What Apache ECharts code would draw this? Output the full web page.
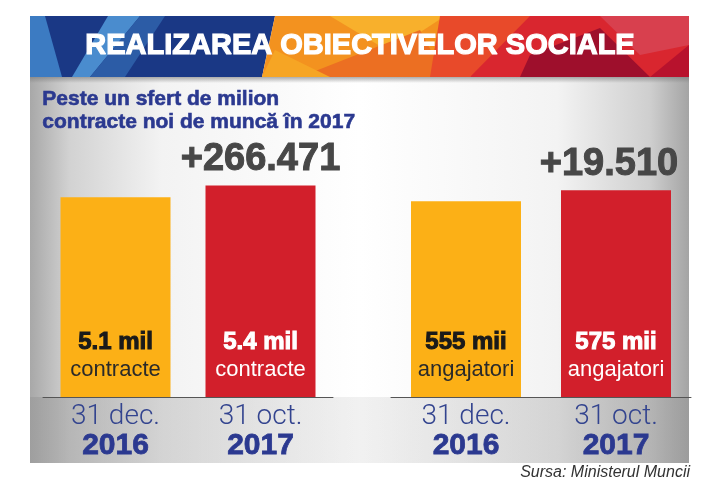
<!DOCTYPE html>
<html>
<head>
<meta charset="utf-8">
<script src="https://cdn.jsdelivr.net/npm/echarts@6/dist/echarts.min.js"></script>
<style>html,body{margin:0;padding:0;background:#fff;}#c{width:720px;height:480px;}</style>
</head>
<body>
<div id="c"></div>
<script>
// ---- data ----
const dateDay = ['31 dec.', '31 oct.'];
const dateYear = ['2016', '2017'];
const contractValues = [5.1, 5.4];           // milioane contracte
const contractLabels = ['5.1 mil', '5.4 mil'];
const employerValues = [555, 575];           // mii angajatori
const employerLabels = ['555 mii', '575 mii'];
const increases = ['+266.471', '+19.510'];
const unitContracts = 'contracte';
const unitEmployers = 'angajatori';
const titleText = 'REALIZAREA OBIECTIVELOR SOCIALE';
const subtitleLines = ['Peste un sfert de milion', 'contracte noi de muncă în 2017'];
const sourceText = 'Sursa: Ministerul Muncii';

const YELLOW = '#FCB016';
const RED = '#D21F2B';
const NAVY = '#2b3990';

const chart = echarts.init(document.getElementById('c'), null, {renderer: 'canvas'});

function barData(values, labels, unit) {
  return values.map((v, i) => {
    const isRed = i === 1;
    const c = isRed ? '#ffffff' : '#1a1a1a';
    return {
      value: v,
      itemStyle: {color: isRed ? RED : YELLOW},
      label: {
        show: true,
        position: 'insideBottom',
        distance: 14,
        formatter: '{b|' + labels[i] + '}\n{u|' + unit + '}',
        rich: {
          b: {fontFamily: 'Liberation Sans', fontWeight: 'bold', fontSize: 24, lineHeight: 30,
              color: c, textBorderColor: c, textBorderWidth: 1},
          u: {fontFamily: 'Liberation Sans', fontSize: 22, lineHeight: 26,
              color: isRed ? '#ffffff' : '#2a2a2a'}
        }
      }
    };
  });
}

function incData(values, text, dx) {
  return values.map((v, i) => ({
    value: v,
    label: {
      show: i === 1,
      position: 'top',
      distance: 7,
      offset: [dx, 0],
      formatter: i === 1 ? text : '',
      fontFamily: 'Liberation Sans', fontWeight: 'bold', fontSize: 38, color: '#474747',
      textBorderColor: '#474747', textBorderWidth: 1
    }
  }));
}

const catAxisBase = {
  type: 'category',
  data: dateDay.map((d, i) => d + '|' + dateYear[i]),
  axisLine: {show: true, lineStyle: {color: '#555', width: 1}},
  axisTick: {show: false},
  axisLabel: {
    margin: 6,
    formatter: function (v) { const p = v.split('|'); return '{d|' + p[0] + '}\n{y|' + p[1] + '}'; },
    rich: {
      d: {fontFamily: 'Roboto', fontWeight: 300, fontSize: 28, lineHeight: 28, color: '#33448f'},
      y: {fontFamily: 'Liberation Sans', fontWeight: 'bold', fontSize: 30, lineHeight: 30, color: NAVY,
          textBorderColor: NAVY, textBorderWidth: 0.8}
    }
  }
};

// banner polygons (decorative)
const B0 = 16, B1 = 77;
const bannerShapes = [
  {pts: [[30,B0],[275,B0],[262,B1],[30,B1]], c: '#1a3885'},
  {pts: [[30,B0],[45,B0],[62,B1],[30,B1]], c: '#3c7bc2'},
  {pts: [[108,B0],[140,B0],[90,B1],[72,B1]], c: '#4a8cce'},
  {pts: [[140,B0],[165,B0],[125,B1],[90,B1]], c: '#2c5ca6'},
  {pts: [[275,B0],[480,B0],[470,B1],[262,B1]], c: '#f3921f'},
  {pts: [[330,B0],[445,B0],[390,52]], c: '#f8b02c'},
  {pts: [[300,B1],[420,30],[445,B1]], c: '#ec6f22'},
  {pts: [[262,B1],[275,50],[330,B1]], c: '#f6a524'},
  {pts: [[480,B0],[689,B0],[689,B1],[470,B1]], c: '#d9262f'},
  {pts: [[440,B0],[530,B0],[470,B1],[430,B1]], c: '#e84a2a'},
  {pts: [[530,55],[600,28],[650,B1],[520,B1]], c: '#9e0f2c'},
  {pts: [[600,B0],[689,B0],[689,45],[640,55]], c: '#d8404e'},
  {pts: [[650,B1],[689,45],[689,B1]], c: '#b8122d'}
];

const graphics = [
  {type: 'rect', z: -10, shape: {x: 30, y: 77, width: 659, height: 386},
   style: {fill: {type: 'linear', x: 0, y: 0, x2: 1, y2: 0, colorStops: [
     {offset: 0, color: '#a8a8a8'}, {offset: 0.06, color: '#d2d2d2'}, {offset: 0.2, color: '#f3f3f3'},
     {offset: 0.5, color: '#ffffff'}, {offset: 0.8, color: '#f3f3f3'}, {offset: 0.94, color: '#cfcfcf'},
     {offset: 1, color: '#a4a4a4'}]}}},
  {type: 'rect', z: -9, shape: {x: 30, y: 397, width: 659, height: 66},
   style: {fill: {type: 'linear', x: 0, y: 0, x2: 1, y2: 0, colorStops: [
     {offset: 0, color: 'rgba(150,150,150,0.55)'}, {offset: 0.5, color: 'rgba(200,200,200,0.25)'},
     {offset: 1, color: 'rgba(150,150,150,0.55)'}]}}},
  {type: 'rect', z: -8, shape: {x: 30, y: 77, width: 659, height: 6},
   style: {fill: {type: 'linear', x: 0, y: 0, x2: 0, y2: 1, colorStops: [
     {offset: 0, color: 'rgba(120,120,120,0.6)'}, {offset: 1, color: 'rgba(120,120,120,0)'}]}}}
];
bannerShapes.forEach(s => graphics.push({type: 'polygon', z: -7, shape: {points: s.pts}, style: {fill: s.c}}));
graphics.push({type: 'text', z: 10, left: 'center', top: 31,
  style: {text: titleText, fontFamily: 'Liberation Sans', fontWeight: 'bold', fontSize: 29,
          fill: '#ffffff', stroke: '#ffffff', lineWidth: 1.2,
          shadowColor: 'rgba(0,0,0,0.8)', shadowBlur: 4, shadowOffsetX: 2, shadowOffsetY: 2}});
graphics.push({type: 'text', z: 10, left: 42, top: 88,
  style: {text: subtitleLines.join('\n'), fontFamily: 'Liberation Sans', fontWeight: 'bold', fontSize: 21,
          lineHeight: 23, fill: NAVY, stroke: NAVY, lineWidth: 0.6}});
graphics.push({type: 'text', z: 10, right: 30, top: 465,
  style: {text: sourceText, fontFamily: 'Liberation Sans', fontStyle: 'italic', fontSize: 16, fill: '#333'}});

const option = {
  animation: false,
  backgroundColor: '#ffffff',
  graphic: graphics,
  grid: [
    {left: 43, width: 290, top: 162, height: 235},
    {left: 391, width: 300, top: 162, height: 235}
  ],
  xAxis: [
    Object.assign({gridIndex: 0}, catAxisBase),
    Object.assign({gridIndex: 1}, catAxisBase)
  ],
  yAxis: [
    {gridIndex: 0, type: 'value', min: 0, max: 6, show: false},
    {gridIndex: 1, type: 'value', min: 200, max: 626, show: false}
  ],
  series: [
    {type: 'bar', xAxisIndex: 0, yAxisIndex: 0, barWidth: 110,
     data: barData(contractValues, contractLabels, unitContracts)},
    {type: 'bar', xAxisIndex: 1, yAxisIndex: 1, barWidth: 110,
     data: barData(employerValues, employerLabels, unitEmployers)},
    {type: 'bar', xAxisIndex: 0, yAxisIndex: 0, barWidth: 110, barGap: '-100%',
     itemStyle: {color: 'transparent'}, silent: true,
     data: incData(contractValues, increases[0], 0)},
    {type: 'bar', xAxisIndex: 1, yAxisIndex: 1, barWidth: 110, barGap: '-100%',
     itemStyle: {color: 'transparent'}, silent: true,
     data: incData(employerValues, increases[1], -7)}
  ]
};
chart.setOption(option);
</script>
</body>
</html>
